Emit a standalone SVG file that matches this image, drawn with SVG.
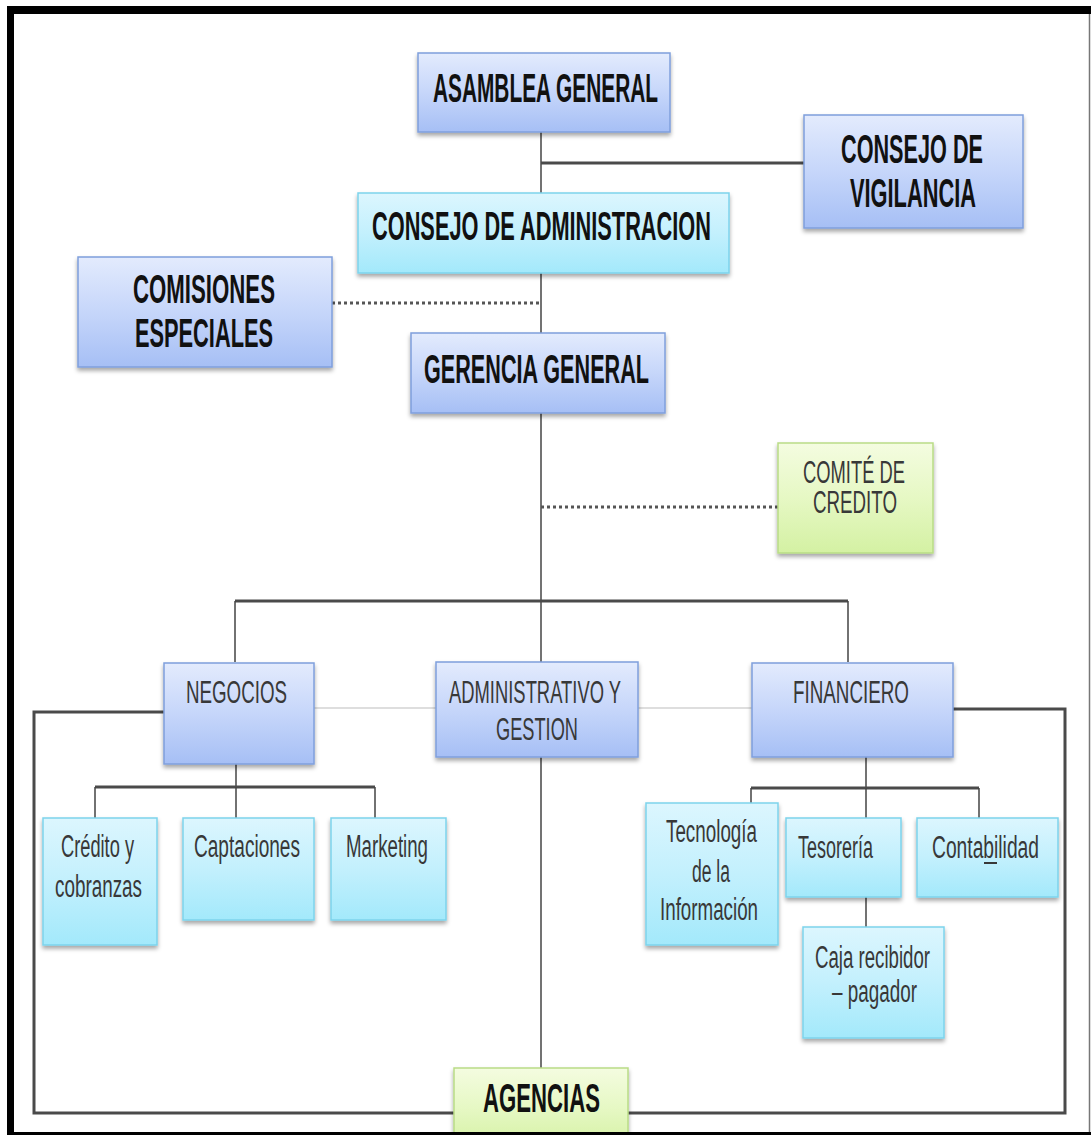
<svg xmlns="http://www.w3.org/2000/svg" width="1091" height="1135" viewBox="0 0 1091 1135">
<defs>
<linearGradient id="gBlue" x1="0" y1="0" x2="0" y2="1">
<stop offset="0" stop-color="#e3ebfd"/><stop offset="0.5" stop-color="#c6d6fa"/><stop offset="1" stop-color="#a6bff5"/>
</linearGradient>
<linearGradient id="gCyan" x1="0" y1="0" x2="0" y2="1">
<stop offset="0" stop-color="#dcf6fe"/><stop offset="0.5" stop-color="#c3f0fd"/><stop offset="1" stop-color="#a3e9fb"/>
</linearGradient>
<linearGradient id="gGreen" x1="0" y1="0" x2="0" y2="1">
<stop offset="0" stop-color="#f4fce0"/><stop offset="0.5" stop-color="#e6f8c4"/><stop offset="1" stop-color="#d4f1a3"/>
</linearGradient>
<filter id="sh" x="-10%" y="-10%" width="120%" height="130%">
<feDropShadow dx="0" dy="3" stdDeviation="2" flood-color="#000" flood-opacity="0.35"/>
</filter>
<style>
.blue{fill:url(#gBlue);stroke:#7f9fdc;stroke-width:1.5;filter:url(#sh)}
.cyan{fill:url(#gCyan);stroke:#7dd3ec;stroke-width:1.5;filter:url(#sh)}
.green{fill:url(#gGreen);stroke:#b9dc86;stroke-width:1.5;filter:url(#sh)}
.tb{font-family:"Liberation Sans",Arial,sans-serif;font-weight:bold;font-size:40px;fill:#111}
.tr{font-family:"Liberation Sans",Arial,sans-serif;font-size:32px;fill:#383838}
.ts{font-family:"Liberation Sans",Arial,sans-serif;font-size:31px;fill:#383838}
.ln{fill:none;stroke:#444;stroke-width:1.5}
.lt{fill:none;stroke:#4a4a4a;stroke-width:3}
.dot{fill:none;stroke:#555;stroke-width:3;stroke-dasharray:3 3}
.faint{fill:none;stroke:#dedede;stroke-width:2}
</style>
</defs>
<rect width="1091" height="1135" fill="#fff"/>
<g id="frame">
<rect x="7" y="6" width="1084" height="8" fill="#000"/>
<rect x="7" y="6" width="7" height="1129" fill="#000"/>
<line x1="1089.5" y1="14" x2="1089.5" y2="1132" stroke="#777" stroke-width="1.5"/>
</g>
<g id="connectors">
<path class="ln" d="M541 132V193"/>
<path class="lt" d="M541 163H804"/>
<path class="ln" d="M541 273V333"/>
<path class="dot" d="M332 303H541"/>
<path class="ln" d="M541 413V662"/>
<path class="dot" d="M541 507H778"/>
<path class="lt" d="M235 601H848"/>
<path class="ln" d="M235 601V662M848 601V662"/>
<path class="faint" d="M314 708H436M638 708H752"/>
<path class="lt" d="M164 712H34V1113H454M953 709H1065V1113H628"/>
<path class="ln" d="M541 757V1068"/>
<path class="ln" d="M236 764V787"/>
<path class="lt" d="M95 787H375"/>
<path class="ln" d="M95 787V818M236 787V818M375 787V818"/>
<path class="ln" d="M866 757V788"/>
<path class="lt" d="M751 788H979"/>
<path class="ln" d="M751 788V818M866 788V818M979 788V818"/>
<path class="ln" d="M866 897V927"/>
</g>
<g id="asamblea"><rect class="blue" x="418" y="53" width="252" height="79"/><text class="tb" x="433" y="102" textLength="225" lengthAdjust="spacingAndGlyphs">ASAMBLEA GENERAL</text></g>
<g id="vigilancia"><rect class="blue" x="804" y="115" width="219" height="113"/><text class="tb" x="841" y="163" textLength="142" lengthAdjust="spacingAndGlyphs">CONSEJO DE</text><text class="tb" x="850" y="207" textLength="126" lengthAdjust="spacingAndGlyphs">VIGILANCIA</text></g>
<g id="administracion"><rect class="cyan" x="358" y="193" width="371" height="80"/><text class="tb" x="372" y="240" textLength="339" lengthAdjust="spacingAndGlyphs">CONSEJO DE ADMINISTRACION</text></g>
<g id="comisiones"><rect class="blue" x="78" y="257" width="254" height="110"/><text class="tb" x="133" y="303" textLength="142" lengthAdjust="spacingAndGlyphs">COMISIONES</text><text class="tb" x="135" y="347" textLength="138" lengthAdjust="spacingAndGlyphs">ESPECIALES</text></g>
<g id="gerencia"><rect class="blue" x="411" y="333" width="254" height="80"/><text class="tb" x="424" y="383" textLength="225" lengthAdjust="spacingAndGlyphs">GERENCIA GENERAL</text></g>
<g id="comite"><rect class="green" x="778" y="443" width="155" height="110"/><text class="ts" x="803" y="483" textLength="102" lengthAdjust="spacingAndGlyphs">COMITÉ DE</text><text class="ts" x="813" y="513" textLength="84" lengthAdjust="spacingAndGlyphs">CREDITO</text></g>
<g id="negocios"><rect class="blue" x="164" y="663" width="150" height="101"/><text class="tr" x="186" y="703" textLength="101" lengthAdjust="spacingAndGlyphs">NEGOCIOS</text></g>
<g id="admgestion"><rect class="blue" x="436" y="662" width="202" height="95"/><text class="tr" x="449" y="703" textLength="172" lengthAdjust="spacingAndGlyphs">ADMINISTRATIVO Y</text><text class="tr" x="496" y="740" textLength="82" lengthAdjust="spacingAndGlyphs">GESTION</text></g>
<g id="financiero"><rect class="blue" x="752" y="663" width="201" height="94"/><text class="tr" x="793" y="703" textLength="116" lengthAdjust="spacingAndGlyphs">FINANCIERO</text></g>
<g id="credito"><rect class="cyan" x="43" y="818" width="114" height="127"/><text class="ts" x="61" y="857" textLength="73" lengthAdjust="spacingAndGlyphs">Crédito y</text><text class="ts" x="55" y="897" textLength="87" lengthAdjust="spacingAndGlyphs">cobranzas</text></g>
<g id="captaciones"><rect class="cyan" x="183" y="818" width="131" height="102"/><text class="ts" x="194" y="857" textLength="106" lengthAdjust="spacingAndGlyphs">Captaciones</text></g>
<g id="marketing"><rect class="cyan" x="331" y="818" width="115" height="102"/><text class="ts" x="346" y="857" textLength="82" lengthAdjust="spacingAndGlyphs">Marketing</text></g>
<g id="tecnologia"><rect class="cyan" x="646" y="803" width="132" height="142"/><text class="ts" x="666" y="842" textLength="91" lengthAdjust="spacingAndGlyphs">Tecnología</text><text class="ts" x="692" y="882" textLength="38" lengthAdjust="spacingAndGlyphs">de la</text><text class="ts" x="660" y="920" textLength="98" lengthAdjust="spacingAndGlyphs">Información</text></g>
<g id="tesoreria"><rect class="cyan" x="786" y="818" width="115" height="79"/><text class="ts" x="798" y="858" textLength="75" lengthAdjust="spacingAndGlyphs">Tesorería</text></g>
<g id="contabilidad"><rect class="cyan" x="917" y="818" width="141" height="79"/><text class="ts" x="932" y="858" textLength="107" lengthAdjust="spacingAndGlyphs">Contabilidad</text><line x1="984" y1="863" x2="997" y2="863" stroke="#383838" stroke-width="2"/></g>
<g id="caja"><rect class="cyan" x="803" y="927" width="141" height="111"/><text class="ts" x="815" y="968" textLength="115" lengthAdjust="spacingAndGlyphs">Caja recibidor</text><text class="ts" x="832" y="1002" textLength="85" lengthAdjust="spacingAndGlyphs">– pagador</text></g>
<g id="agencias"><rect class="green" x="454" y="1068" width="174" height="80"/><text class="tb" x="483" y="1112" textLength="117" lengthAdjust="spacingAndGlyphs">AGENCIAS</text></g>
<rect x="7" y="1132" width="1084" height="3" fill="#000"/>
</svg>
